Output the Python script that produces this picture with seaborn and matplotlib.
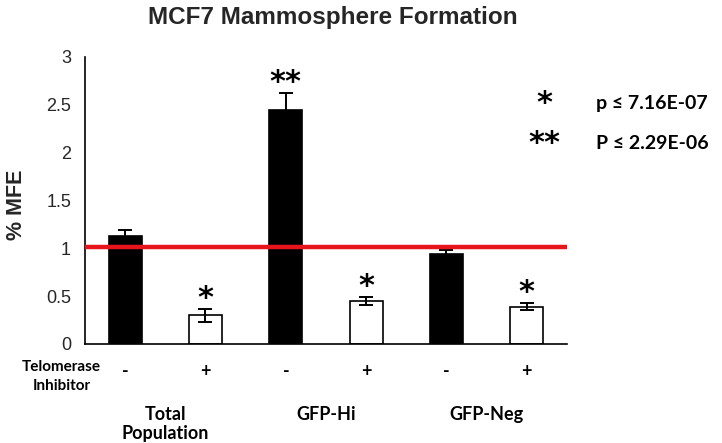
import matplotlib
matplotlib.use("Agg")
import matplotlib.pyplot as plt
import seaborn as sns
import pandas as pd

# values
groups = ["Total\nPopulation", "GFP-Hi", "GFP-Neg"]
inhibitor = ["-", "+", "-", "+", "-", "+"]
bar_ids = ["TP-", "TP+", "Hi-", "Hi+", "Neg-", "Neg+"]
mfe = [1.13, 0.30, 2.45, 0.45, 0.94, 0.39]
mfe_err = [0.06, 0.065, 0.17, 0.045, 0.045, 0.035]
stars = ["", "*", "**", "*", "", "*"]
baseline = 1.01
yticks = [0, 0.5, 1, 1.5, 2, 2.5, 3]
ytick_labels = ["0", "0.5", "1", "1.5", "2", "2.5", "3"]

df = pd.DataFrame({"bar": bar_ids, "inhibitor": inhibitor, "mfe": mfe})

sns.set_style("white")
plt.rcParams["font.family"] = ["Liberation Sans", "DejaVu Sans"]

fig = plt.figure(figsize=(7.22, 4.43), dpi=100)
ax = fig.add_axes([0.1177, 0.2235, 0.6676, 0.6479])

sns.barplot(
    data=df, x="bar", y="mfe", hue="inhibitor",
    palette={"-": "black", "+": "white"},
    dodge=False, width=0.41, edgecolor="black", linewidth=1.2,
    errorbar=None, legend=False, ax=ax
)

ax.errorbar(range(len(mfe)), mfe, yerr=mfe_err, fmt="none",
            ecolor="black", elinewidth=1.4, capsize=5, capthick=1.4, zorder=3)

# red reference line
ax.axhline(baseline, color="#e8141c", linewidth=3.2, zorder=4)

star_font = dict(fontsize=22, fontweight="bold", family="DejaVu Sans", color="black")

# significance stars above bars
for i, s in enumerate(stars):
    if s:
        ax.annotate(s, (i, mfe[i] + mfe_err[i]), xytext=(0, -3),
                    textcoords="offset points", ha="center", va="bottom",
                    **star_font)

ax.set_xlim(-0.5, 5.5)
ax.set_ylim(0, 3)
ax.set_yticks(yticks)
ax.set_yticklabels(ytick_labels, fontsize=13)
ax.set_xticks([x - 0.5 for x in range(len(mfe) + 1)])
ax.set_xticklabels([])
ax.tick_params(axis="both", direction="out", length=6, width=1.2, color="black")
ax.tick_params(axis="x", length=7)
ax.tick_params(axis="y", pad=4)
for side in ["top", "right"]:
    ax.spines[side].set_visible(False)
for side in ["left", "bottom"]:
    ax.spines[side].set_color("black")
    ax.spines[side].set_linewidth(1.2)

ax.set_xlabel("")
ax.set_ylabel("% MFE", fontsize=15.5, fontweight="bold")
ax.yaxis.set_label_coords(-0.12, 0.484)

fig.text(0.461, 0.96, "MCF7 Mammosphere Formation", ha="center", va="center",
         fontsize=17.5, fontweight="bold",
         family=["Liberation Sans Narrow", "Liberation Sans"])

# treatment row
lab = dict(fontweight="bold", family=["Lato", "DejaVu Sans"], color="black")
trans = ax.get_xaxis_transform()
for i, sign in enumerate(inhibitor):
    ax.text(i, -0.095, sign, transform=trans, ha="center", va="center",
            fontsize=13, **lab)
fig.text(0.085, 0.150, "Telomerase\nInhibitor", ha="center", va="center",
         fontsize=11, linespacing=1.5, **lab)

for g, name in enumerate(groups):
    ax.text(2 * g + 0.5, -0.215, name, transform=trans, ha="center", va="top",
            fontsize=13, linespacing=1.2, **lab)

# p-value legend
fig.text(0.754, 0.767, "*", ha="center", va="center", **star_font)
fig.text(0.754, 0.677, "**", ha="center", va="center", **star_font)
fig.text(0.825, 0.767, "p \u2264 7.16E-07", ha="left", va="center", fontsize=14, **lab)
fig.text(0.825, 0.677, "P \u2264 2.29E-06", ha="left", va="center", fontsize=14, **lab)

fig.savefig("out.png", dpi=100)
